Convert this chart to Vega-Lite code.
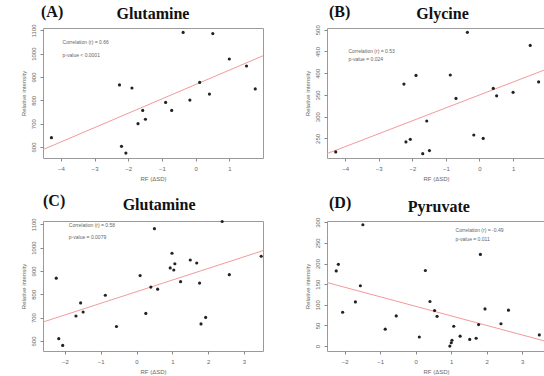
{
  "$schema": "https://vega.github.io/schema/vega-lite/v6.json",
  "padding": {"left": 19, "top": 3, "right": 0, "bottom": 0},
  "background": "white",
  "datasets": {
    "A": [
      {"x": -4.28, "y": 640}, {"x": -2.26, "y": 866}, {"x": -2.2, "y": 603}, {"x": -2.07, "y": 574},
      {"x": -1.89, "y": 853}, {"x": -1.71, "y": 700}, {"x": -1.57, "y": 757}, {"x": -1.49, "y": 719},
      {"x": -0.89, "y": 791}, {"x": -0.71, "y": 757}, {"x": -0.37, "y": 1091}, {"x": -0.17, "y": 801},
      {"x": 0.12, "y": 877}, {"x": 0.41, "y": 827}, {"x": 0.51, "y": 1086}, {"x": 1.0, "y": 977},
      {"x": 1.51, "y": 947}, {"x": 1.77, "y": 849}
    ],
    "lineA": [{"x": -4.53, "y": 589}, {"x": 2.0, "y": 991}],
    "B": [
      {"x": -4.28, "y": 219}, {"x": -2.25, "y": 375}, {"x": -2.19, "y": 242}, {"x": -2.06, "y": 248},
      {"x": -1.89, "y": 395}, {"x": -1.69, "y": 215}, {"x": -1.57, "y": 290}, {"x": -1.49, "y": 222},
      {"x": -0.87, "y": 396}, {"x": -0.7, "y": 342}, {"x": -0.36, "y": 494}, {"x": -0.17, "y": 258},
      {"x": 0.11, "y": 250}, {"x": 0.41, "y": 365}, {"x": 0.51, "y": 348}, {"x": 1.0, "y": 356},
      {"x": 1.51, "y": 464}, {"x": 1.76, "y": 380}
    ],
    "lineB": [{"x": -4.54, "y": 215}, {"x": 1.95, "y": 408}],
    "C": [
      {"x": -2.24, "y": 869}, {"x": -2.17, "y": 610}, {"x": -2.06, "y": 581}, {"x": -1.69, "y": 707},
      {"x": -1.56, "y": 763}, {"x": -1.49, "y": 724}, {"x": -0.87, "y": 796}, {"x": -0.56, "y": 662},
      {"x": 0.1, "y": 880}, {"x": 0.26, "y": 718}, {"x": 0.4, "y": 831}, {"x": 0.5, "y": 1081},
      {"x": 0.59, "y": 822}, {"x": 0.94, "y": 913}, {"x": 0.99, "y": 976}, {"x": 1.04, "y": 904},
      {"x": 1.07, "y": 931}, {"x": 1.23, "y": 854}, {"x": 1.5, "y": 947}, {"x": 1.68, "y": 934},
      {"x": 1.76, "y": 848}, {"x": 1.8, "y": 673}, {"x": 1.93, "y": 701}, {"x": 2.39, "y": 1112},
      {"x": 2.59, "y": 884}, {"x": 3.48, "y": 963}
    ],
    "lineC": [{"x": -2.61, "y": 681}, {"x": 3.53, "y": 987}],
    "D": [
      {"x": -2.24, "y": 182}, {"x": -2.18, "y": 198}, {"x": -2.06, "y": 82}, {"x": -1.7, "y": 107},
      {"x": -1.56, "y": 146}, {"x": -1.49, "y": 294}, {"x": -0.86, "y": 41}, {"x": -0.55, "y": 73},
      {"x": 0.1, "y": 22}, {"x": 0.27, "y": 183}, {"x": 0.4, "y": 108}, {"x": 0.53, "y": 86},
      {"x": 0.6, "y": 72}, {"x": 0.96, "y": 0}, {"x": 1.0, "y": 8}, {"x": 1.02, "y": 14},
      {"x": 1.07, "y": 48}, {"x": 1.25, "y": 24}, {"x": 1.52, "y": 16}, {"x": 1.7, "y": 19},
      {"x": 1.77, "y": 52}, {"x": 1.82, "y": 222}, {"x": 1.95, "y": 90}, {"x": 2.4, "y": 54},
      {"x": 2.61, "y": 87}, {"x": 3.48, "y": 27}
    ],
    "lineD": [{"x": -2.5, "y": 154}, {"x": 3.64, "y": 12}]
  },
  "config": {
    "view": {"stroke": "#9a9a9a", "strokeWidth": 1},
    "axis": {
      "grid": false, "domain": false, "labelFont": "Liberation Sans", "labelFontSize": 6,
      "labelColor": "#666", "tickColor": "#888", "tickSize": 3, "titleFont": "Liberation Sans",
      "titleFontSize": 6, "titleFontWeight": "normal", "titleColor": "#666",
      "labelFlush": false, "labelOverlap": false
    },
    "axisY": {"labelAngle": -90, "labelAlign": "center", "labelBaseline": "bottom", "labelPadding": 4, "titlePadding": 4, "labelOverlap": false},
    "axisX": {"labelPadding": 4, "titlePadding": 4},
    "text": {"font": "Liberation Sans", "fontSize": 5, "align": "left", "color": "#666"}
  },
  "concat": [
    {
      "width": 220, "height": 130,
      "layer": [
        {
          "encoding": {
            "x": {"field": "x", "type": "quantitative", "scale": {"domain": [-4.53, 2.0], "nice": false, "zero": false}, "axis": {"values": [-4, -3, -2, -1, 0, 1], "title": "RF (ΔSD)", "labelOverlap": false, "format": "d"}},
            "y": {"field": "y", "type": "quantitative", "scale": {"domain": [553, 1110], "nice": false, "zero": false}, "axis": {"values": [600, 700, 800, 900, 1000, 1100], "title": "Relative intensity", "labelOverlap": false, "format": "d"}}
          },
          "layer": [
            {"data": {"name": "lineA"}, "mark": {"type": "line", "color": "#f39a9a", "strokeWidth": 1, "clip": true}},
            {"data": {"name": "A"}, "mark": {"type": "circle", "size": 10, "color": "#222", "opacity": 1}}
          ]
        },
        {"data": {"values": [{}]}, "mark": {"type": "text", "font": "Liberation Serif", "fontSize": 16, "fontWeight": "bold", "align": "left", "baseline": "bottom", "dx": -2, "dy": -8, "color": "#111"},
         "encoding": {"x": {"datum": -4.53, "axis": {"values": [-4, -3, -2, -1, 0, 1], "title": "RF (ΔSD)", "labelOverlap": false, "format": "d"}}, "y": {"datum": 1110, "axis": {"values": [600, 700, 800, 900, 1000, 1100], "title": "Relative intensity", "labelOverlap": false, "format": "d"}}, "text": {"value": "(A)"}}},
        {"data": {"values": [{}]}, "mark": {"type": "text", "font": "Liberation Serif", "fontSize": 16, "fontWeight": "bold", "align": "center", "baseline": "bottom", "dy": -6, "color": "#111"},
         "encoding": {"x": {"datum": -1.265, "axis": {"values": [-4, -3, -2, -1, 0, 1], "title": "RF (ΔSD)", "labelOverlap": false, "format": "d"}}, "y": {"datum": 1110, "axis": {"values": [600, 700, 800, 900, 1000, 1100], "title": "Relative intensity", "labelOverlap": false, "format": "d"}}, "text": {"value": "Glutamine"}}},
        {"data": {"values": [{}]}, "mark": {"type": "text"},
         "encoding": {"x": {"datum": -3.95, "axis": {"values": [-4, -3, -2, -1, 0, 1], "title": "RF (ΔSD)", "labelOverlap": false, "format": "d"}}, "y": {"datum": 1049, "axis": {"values": [600, 700, 800, 900, 1000, 1100], "title": "Relative intensity", "labelOverlap": false, "format": "d"}}, "text": {"value": "Correlation (r) = 0.66"}}},
        {"data": {"values": [{}]}, "mark": {"type": "text"},
         "encoding": {"x": {"datum": -3.95, "axis": {"values": [-4, -3, -2, -1, 0, 1], "title": "RF (ΔSD)", "labelOverlap": false, "format": "d"}}, "y": {"datum": 996, "axis": {"values": [600, 700, 800, 900, 1000, 1100], "title": "Relative intensity", "labelOverlap": false, "format": "d"}}, "text": {"value": "p-value < 0.0001"}}}
      ]
    },
    {
      "width": 218, "height": 130,
      "layer": [
        {
          "encoding": {
            "x": {"field": "x", "type": "quantitative", "scale": {"domain": [-4.54, 1.95], "nice": false, "zero": false}, "axis": {"values": [-4, -3, -2, -1, 0, 1], "title": "RF (ΔSD)", "labelOverlap": false, "format": "d"}},
            "y": {"field": "y", "type": "quantitative", "scale": {"domain": [205, 504], "nice": false, "zero": false}, "axis": {"values": [250, 300, 350, 400, 450, 500], "title": "Relative intensity", "labelOverlap": false, "format": "d"}}
          },
          "layer": [
            {"data": {"name": "lineB"}, "mark": {"type": "line", "color": "#f39a9a", "strokeWidth": 1, "clip": true}},
            {"data": {"name": "B"}, "mark": {"type": "circle", "size": 10, "color": "#222", "opacity": 1}}
          ]
        },
        {"data": {"values": [{}]}, "mark": {"type": "text", "font": "Liberation Serif", "fontSize": 16, "fontWeight": "bold", "align": "left", "baseline": "bottom", "dx": 2, "dy": -8, "color": "#111"},
         "encoding": {"x": {"datum": -4.54, "axis": {"values": [-4, -3, -2, -1, 0, 1], "title": "RF (ΔSD)", "labelOverlap": false, "format": "d"}}, "y": {"datum": 504, "axis": {"values": [250, 300, 350, 400, 450, 500], "title": "Relative intensity", "labelOverlap": false, "format": "d"}}, "text": {"value": "(B)"}}},
        {"data": {"values": [{}]}, "mark": {"type": "text", "font": "Liberation Serif", "fontSize": 16, "fontWeight": "bold", "align": "center", "baseline": "bottom", "dy": -6, "color": "#111"},
         "encoding": {"x": {"datum": -1.1, "axis": {"values": [-4, -3, -2, -1, 0, 1], "title": "RF (ΔSD)", "labelOverlap": false, "format": "d"}}, "y": {"datum": 504, "axis": {"values": [250, 300, 350, 400, 450, 500], "title": "Relative intensity", "labelOverlap": false, "format": "d"}}, "text": {"value": "Glycine"}}},
        {"data": {"values": [{}]}, "mark": {"type": "text"},
         "encoding": {"x": {"datum": -3.9, "axis": {"values": [-4, -3, -2, -1, 0, 1], "title": "RF (ΔSD)", "labelOverlap": false, "format": "d"}}, "y": {"datum": 450, "axis": {"values": [250, 300, 350, 400, 450, 500], "title": "Relative intensity", "labelOverlap": false, "format": "d"}}, "text": {"value": "Correlation (r) = 0.53"}}},
        {"data": {"values": [{}]}, "mark": {"type": "text"},
         "encoding": {"x": {"datum": -3.9, "axis": {"values": [-4, -3, -2, -1, 0, 1], "title": "RF (ΔSD)", "labelOverlap": false, "format": "d"}}, "y": {"datum": 432, "axis": {"values": [250, 300, 350, 400, 450, 500], "title": "Relative intensity", "labelOverlap": false, "format": "d"}}, "text": {"value": "p-value = 0.024"}}}
      ]
    },
    {
      "width": 220, "height": 130,
      "layer": [
        {
          "encoding": {
            "x": {"field": "x", "type": "quantitative", "scale": {"domain": [-2.61, 3.53], "nice": false, "zero": false}, "axis": {"values": [-2, -1, 0, 1, 2, 3], "title": "RF (ΔSD)", "labelOverlap": false, "format": "d"}},
            "y": {"field": "y", "type": "quantitative", "scale": {"domain": [557, 1114], "nice": false, "zero": false}, "axis": {"values": [600, 700, 800, 900, 1000, 1100], "title": "Relative intensity", "labelOverlap": false, "format": "d"}}
          },
          "layer": [
            {"data": {"name": "lineC"}, "mark": {"type": "line", "color": "#f39a9a", "strokeWidth": 1, "clip": true}},
            {"data": {"name": "C"}, "mark": {"type": "circle", "size": 10, "color": "#222", "opacity": 1}}
          ]
        },
        {"data": {"values": [{}]}, "mark": {"type": "text", "font": "Liberation Serif", "fontSize": 16, "fontWeight": "bold", "align": "left", "baseline": "bottom", "dx": 0, "dy": -12, "color": "#111"},
         "encoding": {"x": {"datum": -2.61, "axis": {"values": [-2, -1, 0, 1, 2, 3], "title": "RF (ΔSD)", "labelOverlap": false, "format": "d"}}, "y": {"datum": 1114, "axis": {"values": [600, 700, 800, 900, 1000, 1100], "title": "Relative intensity", "labelOverlap": false, "format": "d"}}, "text": {"value": "(C)"}}},
        {"data": {"values": [{}]}, "mark": {"type": "text", "font": "Liberation Serif", "fontSize": 16, "fontWeight": "bold", "align": "center", "baseline": "bottom", "dy": -8, "color": "#111"},
         "encoding": {"x": {"datum": 0.63, "axis": {"values": [-2, -1, 0, 1, 2, 3], "title": "RF (ΔSD)", "labelOverlap": false, "format": "d"}}, "y": {"datum": 1114, "axis": {"values": [600, 700, 800, 900, 1000, 1100], "title": "Relative intensity", "labelOverlap": false, "format": "d"}}, "text": {"value": "Glutamine"}}},
        {"data": {"values": [{}]}, "mark": {"type": "text"},
         "encoding": {"x": {"datum": -1.89, "axis": {"values": [-2, -1, 0, 1, 2, 3], "title": "RF (ΔSD)", "labelOverlap": false, "format": "d"}}, "y": {"datum": 1096, "axis": {"values": [600, 700, 800, 900, 1000, 1100], "title": "Relative intensity", "labelOverlap": false, "format": "d"}}, "text": {"value": "Correlation (r) = 0.58"}}},
        {"data": {"values": [{}]}, "mark": {"type": "text"},
         "encoding": {"x": {"datum": -1.89, "axis": {"values": [-2, -1, 0, 1, 2, 3], "title": "RF (ΔSD)", "labelOverlap": false, "format": "d"}}, "y": {"datum": 1045, "axis": {"values": [600, 700, 800, 900, 1000, 1100], "title": "Relative intensity", "labelOverlap": false, "format": "d"}}, "text": {"value": "p-value = 0.0079"}}}
      ]
    },
    {
      "width": 218, "height": 130,
      "layer": [
        {
          "encoding": {
            "x": {"field": "x", "type": "quantitative", "scale": {"domain": [-2.5, 3.64], "nice": false, "zero": false}, "axis": {"values": [-2, -1, 0, 1, 2, 3], "title": "RF (ΔSD)", "labelOverlap": false, "format": "d"}},
            "y": {"field": "y", "type": "quantitative", "scale": {"domain": [-12, 303], "nice": false, "zero": false}, "axis": {"values": [0, 50, 100, 150, 200, 250, 300], "title": "Relative intensity", "labelOverlap": false, "format": "d"}}
          },
          "layer": [
            {"data": {"name": "lineD"}, "mark": {"type": "line", "color": "#f39a9a", "strokeWidth": 1, "clip": true}},
            {"data": {"name": "D"}, "mark": {"type": "circle", "size": 10, "color": "#222", "opacity": 1}}
          ]
        },
        {"data": {"values": [{}]}, "mark": {"type": "text", "font": "Liberation Serif", "fontSize": 16, "fontWeight": "bold", "align": "left", "baseline": "bottom", "dx": 2, "dy": -10, "color": "#111"},
         "encoding": {"x": {"datum": -2.5, "axis": {"values": [-2, -1, 0, 1, 2, 3], "title": "RF (ΔSD)", "labelOverlap": false, "format": "d"}}, "y": {"datum": 303, "axis": {"values": [0, 50, 100, 150, 200, 250, 300], "title": "Relative intensity", "labelOverlap": false, "format": "d"}}, "text": {"value": "(D)"}}},
        {"data": {"values": [{}]}, "mark": {"type": "text", "font": "Liberation Serif", "fontSize": 16, "fontWeight": "bold", "align": "center", "baseline": "bottom", "dy": -6, "color": "#111"},
         "encoding": {"x": {"datum": 0.65, "axis": {"values": [-2, -1, 0, 1, 2, 3], "title": "RF (ΔSD)", "labelOverlap": false, "format": "d"}}, "y": {"datum": 303, "axis": {"values": [0, 50, 100, 150, 200, 250, 300], "title": "Relative intensity", "labelOverlap": false, "format": "d"}}, "text": {"value": "Pyruvate"}}},
        {"data": {"values": [{}]}, "mark": {"type": "text"},
         "encoding": {"x": {"datum": 1.12, "axis": {"values": [-2, -1, 0, 1, 2, 3], "title": "RF (ΔSD)", "labelOverlap": false, "format": "d"}}, "y": {"datum": 280, "axis": {"values": [0, 50, 100, 150, 200, 250, 300], "title": "Relative intensity", "labelOverlap": false, "format": "d"}}, "text": {"value": "Correlation (r) = -0.49"}}},
        {"data": {"values": [{}]}, "mark": {"type": "text"},
         "encoding": {"x": {"datum": 1.12, "axis": {"values": [-2, -1, 0, 1, 2, 3], "title": "RF (ΔSD)", "labelOverlap": false, "format": "d"}}, "y": {"datum": 260, "axis": {"values": [0, 50, 100, 150, 200, 250, 300], "title": "Relative intensity", "labelOverlap": false, "format": "d"}}, "text": {"value": "p-value = 0.011"}}}
      ]
    }
  ],
  "columns": 2,
  "spacing": {"row": 10, "column": 39},
  "resolve": {"scale": {"x": "independent", "y": "independent"}}
}
